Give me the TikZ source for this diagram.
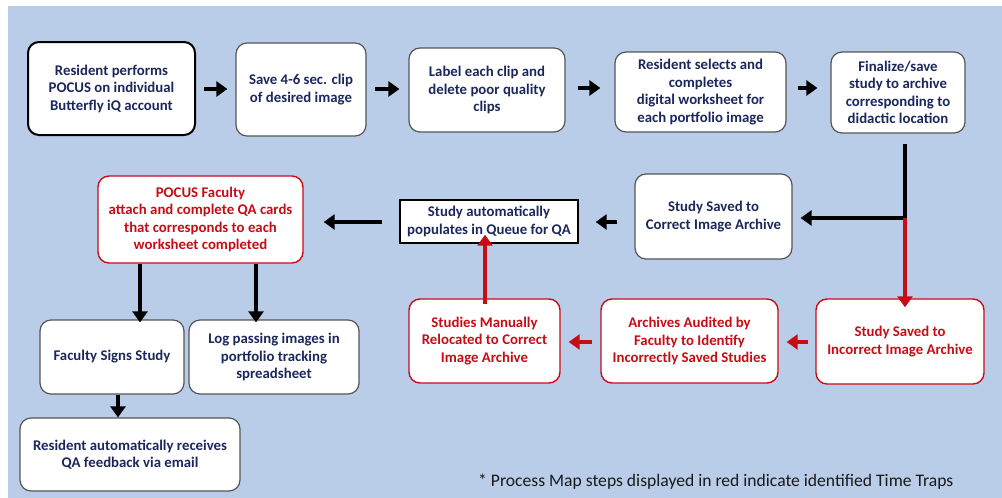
\documentclass[tikz,border=0pt]{standalone}
\usepackage{fontspec}
\setmainfont{Carlito}
\usetikzlibrary{arrows.meta,calc}
\definecolor{bgblue}{RGB}{185,205,232}
\definecolor{navy}{RGB}{28,40,92}
\definecolor{tred}{RGB}{200,12,22}
\definecolor{bgray}{RGB}{85,85,85}
\tikzset{
  box/.style={draw=bgray, line width=1.2pt, fill=white, rounded corners=11pt,
    align=center, text=navy, font=\fontsize{14.8}{17.5}\selectfont\bfseries, inner sep=2pt},
  redbox/.style={box, draw=tred, line width=1.4pt, text=tred},
  sqbox/.style={box, rounded corners=0pt, draw=black, line width=1.4pt},
  arr/.style={line width=4pt, -{Triangle[length=11pt,width=15pt]}, black},
  rarr/.style={line width=3.5pt, -{Triangle[length=11pt,width=15pt]}, tred},
}
\begin{document}
\begin{tikzpicture}[x=1pt,y=-1pt]
\useasboundingbox (0,0) rectangle (1002,498);
\fill[white] (0,0) rectangle (1002,498);
\fill[bgblue] (8,6) rectangle (1002,498);

\node[box, draw=black, line width=2pt, minimum width=167pt, minimum height=93pt] (r1) at (111.5,88.5) {Resident performs\\POCUS on individual\\Butterfly iQ account};
\node[box, minimum width=130pt, minimum height=93pt] (r2) at (301,89.5) {Save 4-6 sec. clip\\of desired image};
\node[box, minimum width=156pt, minimum height=84pt] (r3) at (487,90) {Label each clip and\\delete poor quality\\clips};
\node[box, minimum width=171pt, minimum height=80pt] (r4) at (700.5,92) {Resident selects and\\completes\\digital worksheet for\\each portfolio image};
\node[box, minimum width=134pt, minimum height=81pt] (r5) at (898,92.5) {Finalize/save\\study to archive\\corresponding to\\didactic location};

\node[redbox, minimum width=205pt, minimum height=87pt] (pocus) at (200.5,219.5) {POCUS Faculty\\attach and complete QA cards\\that corresponds to each\\worksheet completed};
\node[sqbox, minimum width=178pt, minimum height=43pt] (auto) at (489,221.5) {Study automatically\\populates in Queue for QA};
\node[box, minimum width=157pt, minimum height=85pt] (correct) at (713.5,216.5) {Study Saved to\\Correct Image Archive};

\node[box, minimum width=144pt, minimum height=74pt] (signs) at (112,357) {Faculty Signs Study};
\node[box, minimum width=170pt, minimum height=74pt] (log) at (274,357) {Log passing images in\\portfolio tracking\\spreadsheet};
\node[box, minimum width=220pt, minimum height=73pt] (recv) at (130,454.5) {Resident automatically receives\\QA feedback via email};

\node[redbox, minimum width=151pt, minimum height=84pt] (reloc) at (484.5,341) {Studies Manually\\Relocated to Correct\\Image Archive};
\node[redbox, minimum width=177pt, minimum height=84pt] (audit) at (689.5,341) {Archives Audited by\\Faculty to Identify\\Incorrectly Saved Studies};
\node[redbox, minimum width=168pt, minimum height=85pt] (incorrect) at (900,341.5) {Study Saved to\\Incorrect Image Archive};

\node[anchor=base west, text=black!90, font=\fontsize{17.6}{20}\selectfont, inner sep=0pt] (note) at (478,486) {* Process Map steps displayed in red indicate identified Time Traps};

% top row
\draw[arr] ([xshift=8pt]r1.east |- 0,89) -- ([xshift=-8pt]r2.west |- 0,89);
\draw[arr] ([xshift=8pt]r2.east |- 0,89) -- ([xshift=-9pt]r3.west |- 0,89);
\draw[arr] ([xshift=12pt]r3.east |- 0,88) -- ([xshift=-14pt]r4.west |- 0,88);
\draw[arr] ([xshift=11pt]r4.east |- 0,88) -- ([xshift=-13pt]r5.west |- 0,88);

% branch from finalize
\coordinate (junc) at (905,218);
\coordinate (top) at (905,144);
\draw[line width=4pt, black] (top) -- ([yshift=2pt]junc);
\draw[arr] ([xshift=2pt]junc) -- ([xshift=8pt]correct.east |- junc);
\draw[rarr] (junc) -- ([yshift=-9pt]incorrect.north -| junc);

% middle row
\draw[arr] ([xshift=-17pt]correct.west |- 0,222) -- ([xshift=17pt]auto.east |- 0,222);
\draw[arr] ([xshift=-17pt]auto.west |- 0,222) -- ([xshift=20pt]pocus.east |- 0,222);
\draw[arr] (pocus.south -| 140,0) -- ([yshift=-3pt]signs.north -| 140,0);
\draw[arr] (pocus.south -| 256,0) -- ([yshift=-3pt]log.north -| 256,0);
\draw[arr] (signs.south -| 118,0) -- (recv.north -| 118,0);

% red loop
\draw[rarr] ([xshift=-7pt]incorrect.west |- 0,342) -- ([xshift=8pt]audit.east |- 0,342);
\draw[rarr] ([xshift=-8pt]audit.west |- 0,342) -- ([xshift=8pt]reloc.east |- 0,342);
\draw[rarr] ([yshift=-6pt]reloc.north -| 485,0) -- ([yshift=9pt]auto.south -| 485,0);
\end{tikzpicture}
\end{document}
